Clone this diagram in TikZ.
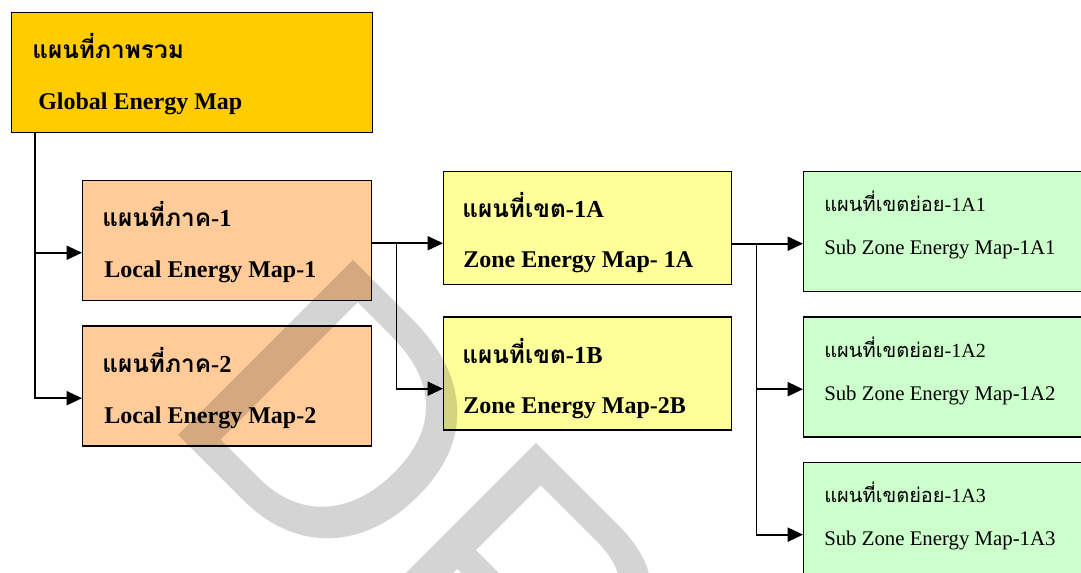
\documentclass[tikz,border=0pt]{standalone}
\usepackage{fontspec}
\setmainfont{Liberation Serif}
\newfontfamily\thaifont[Script=Thai]{Loma}
\newfontfamily\markfont{Liberation Sans}
\usetikzlibrary{arrows.meta, positioning}
\definecolor{globalgold}{HTML}{FFCC00}
\definecolor{localpeach}{HTML}{FFCC99}
\definecolor{zoneyellow}{HTML}{FFFF99}
\definecolor{subgreen}{HTML}{CCFFCC}

\begin{document}
\begin{tikzpicture}[
    x=0.75pt, y=-0.75pt,
    node distance=18pt,
    mapbox/.style={draw=black, line width=1.1pt, inner sep=0pt, anchor=north west},
    globalmap/.style={mapbox, fill=globalgold, minimum width=270.75pt, minimum height=90pt},
    localmap/.style={mapbox, fill=localpeach, minimum width=216.75pt, minimum height=90pt},
    zonemap/.style={mapbox, fill=zoneyellow, minimum width=216pt, minimum height=84.75pt},
    submap/.style={mapbox, fill=subgreen, minimum width=225pt, minimum height=90pt},
    boldth/.style={anchor=base west, inner sep=0pt, font=\thaifont\bfseries\fontsize{18.3}{21}\selectfont},
    boldlatin/.style={anchor=base west, inner sep=0pt, font=\bfseries\fontsize{18}{22}\selectfont},
    subth/.style={anchor=base west, inner sep=0pt, font=\thaifont\fontsize{15}{18}\selectfont},
    sublatin/.style={anchor=base west, inner sep=0pt, font=\fontsize{15.6}{18}\selectfont},
    maplink/.style={-{Triangle[length=11.5pt, width=10.5pt]}, line width=1.3pt, draw=black},
    watermark/.style={anchor=base west, inner sep=0pt, text=black, text opacity=0.17,
      font=\markfont\fontsize{270}{270}\selectfont}
  ]
    \useasboundingbox (0,0) rectangle (1081,573);
    \clip (0,0) rectangle (1081,573);

    % boxes
    \node[globalmap] (glob) at (11,12) {};
    \node[localmap] (loc1) at (82,180) {};
    \node[localmap, below=of loc1] (loc2) {};
    \node[zonemap] (zone1a) at (443,171) {};
    \node[zonemap, below=23.25pt of zone1a] (zone1b) {};
    \node[submap] (sub1) at (803,171) {};
    \node[submap, below=of sub1] (sub2) {};
    \node[submap, below=of sub2] (sub3) {};

    % labels
    \node[boldth] (globth) at ([shift={(21,47)}]glob.north west) {แผนที่ภาพรวม};
    \node[boldlatin] (globen) at ([shift={(27,98)}]glob.north west) {Global Energy Map};
    \node[boldth] (loc1th) at ([shift={(20,47)}]loc1.north west) {แผนที่ภาค\rmfamily-1};
    \node[boldlatin] (loc1en) at ([shift={(22,98)}]loc1.north west) {Local Energy Map-1};
    \node[boldth] (loc2th) at ([shift={(20,47)}]loc2.north west) {แผนที่ภาค\rmfamily-2};
    \node[boldlatin] (loc2en) at ([shift={(22,98)}]loc2.north west) {Local Energy Map-2};
    \node[boldth] (zone1ath) at ([shift={(19,47)}]zone1a.north west) {แผนที่เขต\rmfamily-1A};
    \node[boldlatin] (zone1aen) at ([shift={(20,97)}]zone1a.north west) {Zone Energy Map- 1A};
    \node[boldth] (zone1bth) at ([shift={(19,47)}]zone1b.north west) {แผนที่เขต\rmfamily-1B};
    \node[boldlatin] (zone1ben) at ([shift={(20,97)}]zone1b.north west) {Zone Energy Map-2B};
    \node[subth] (sub1th) at ([shift={(21,41)}]sub1.north west) {แผนที่เขตย่อย\rmfamily-1A1};
    \node[sublatin] (sub1en) at ([shift={(21,84)}]sub1.north west) {Sub Zone Energy Map-1A1};
    \node[subth] (sub2th) at ([shift={(21,41)}]sub2.north west) {แผนที่เขตย่อย\rmfamily-1A2};
    \node[sublatin] (sub2en) at ([shift={(21,84)}]sub2.north west) {Sub Zone Energy Map-1A2};
    \node[subth] (sub3th) at ([shift={(21,41)}]sub3.north west) {แผนที่เขตย่อย\rmfamily-1A3};
    \node[sublatin] (sub3en) at ([shift={(21,84)}]sub3.north west) {Sub Zone Energy Map-1A3};

    % connectors
    \coordinate (l1in) at ([shift={(0,12)}]loc1.west);
    \coordinate (l2in) at ([shift={(0,12)}]loc2.west);
    \path (glob.south west) ++(24,0) coordinate (gtrunk);
    \draw[maplink] (gtrunk) |- (l2in);
    \draw[maplink] (gtrunk |- l1in) -- (l1in);

    \coordinate (z1in) at ([shift={(0,15)}]zone1a.west);
    \coordinate (z2in) at ([shift={(0,15)}]zone1b.west);
    \path (loc1.east |- z1in) ++(24,0) coordinate (lsplit);
    \draw[maplink] (loc1.east |- z1in) -- (z1in);
    \draw[maplink] (lsplit) |- (z2in);

    \coordinate (s1in) at ([shift={(0,12)}]sub1.west);
    \coordinate (s2in) at ([shift={(0,12)}]sub2.west);
    \coordinate (s3in) at ([shift={(0,12)}]sub3.west);
    \path (zone1a.east |- s1in) ++(24,0) coordinate (zsplit);
    \draw[maplink] (zone1a.east |- s1in) -- (s1in);
    \draw[maplink] (zsplit) |- (s2in);
    \draw[maplink] (zsplit) |- (s3in);

    % watermark
    \node[watermark, rotate=-45] (draftmark) at (157,414) {DR};
  \end{tikzpicture}
\end{document}
